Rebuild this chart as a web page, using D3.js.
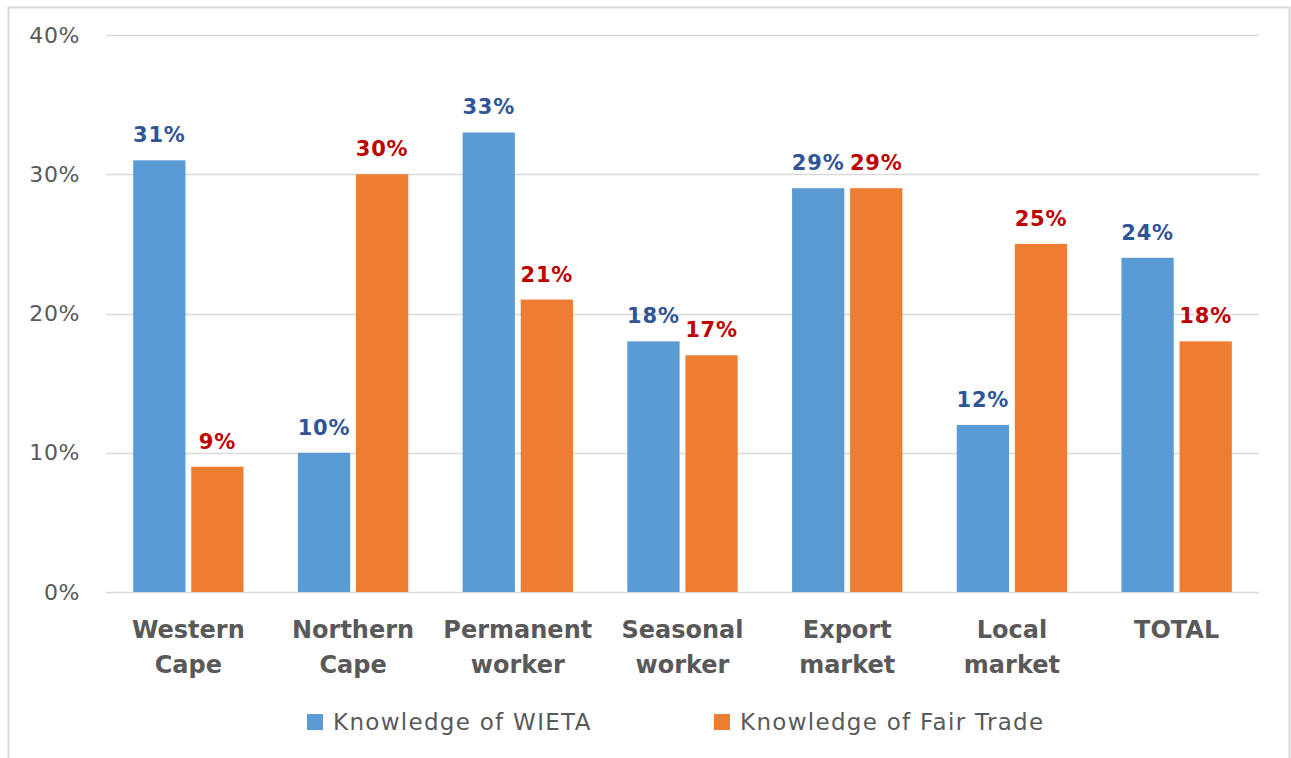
<!DOCTYPE html>
<html><head><meta charset="utf-8">
<script src="https://cdn.jsdelivr.net/npm/d3@7"></script>
<style>body{margin:0;background:#fff}svg{display:block}</style>
</head><body>
<svg id="c" width="1291" height="758"></svg>
<script>
const categories = [["Western","Cape"],["Northern","Cape"],["Permanent","worker"],["Seasonal","worker"],["Export","market"],["Local","market"],["TOTAL"]];
const wieta = [31, 10, 33, 18, 29, 12, 24];
const fairTrade = [9, 30, 21, 17, 29, 25, 18];
const seriesNames = ["Knowledge of WIETA", "Knowledge of Fair Trade"];
const yTicks = [0, 10, 20, 30, 40];

(function () {
const svg = d3.select("#c");
const font = "'DejaVu Sans', Verdana, sans-serif";
const W = 1291, H = 758;
const pLeft = 106, pRight = 1259, pTop = 35, pBottom = 592;

// border
svg.append("path").attr("d", `M8.5,${H} L8.5,7.5 L1289.5,7.5 L1289.5,${H}`)
  .attr("fill","none").attr("stroke","#d9d9d9").attr("stroke-width",2);

const idx = d3.range(categories.length);
const x = d3.scaleBand().domain(idx).range([pLeft, pRight]).paddingInner(0.33).paddingOuter(0.165);
const xs = d3.scaleBand().domain([0,1]).range([0, x.bandwidth()]).paddingInner(0.1);
const y = d3.scaleLinear().domain([0, 40]).range([pBottom, pTop]);

// gridlines
svg.append("g").selectAll("line").data(yTicks).join("line")
  .attr("x1", pLeft).attr("x2", pRight)
  .attr("y1", d => Math.round(y(d)) + 0.5).attr("y2", d => Math.round(y(d)) + 0.5)
  .attr("stroke", "#d9d9d9").attr("stroke-width", 1.3);

// y axis labels
const yAxis = d3.axisLeft(y).tickValues(yTicks).tickFormat(d => d + "%").tickSize(0).tickPadding(0);
const ya = svg.append("g").attr("transform", "translate(80,0)").call(yAxis);
ya.select(".domain").remove();
ya.selectAll("text").attr("font-family", font).attr("font-size", 22).attr("letter-spacing", 0.6).attr("fill", "#595959");

const colors = ["#5b9bd5", "#ed7d31"];
const labelColors = ["#2f5597", "#c00000"];
const series = [wieta, fairTrade];

series.forEach((vals, s) => {
  const g = svg.append("g");
  g.selectAll("rect").data(vals).join("rect")
    .attr("x", (d, i) => x(i) + xs(s))
    .attr("width", xs.bandwidth())
    .attr("y", d => y(d))
    .attr("height", d => y(0) - y(d))
    .attr("fill", colors[s]);
  g.selectAll("text").data(vals).join("text")
    .attr("x", (d, i) => x(i) + xs(s) + xs.bandwidth() / 2)
    .attr("y", d => y(d) - 18)
    .attr("text-anchor", "middle")
    .attr("font-family", font).attr("font-weight", "bold").attr("font-size", 21).attr("letter-spacing", 0.8)
    .attr("fill", labelColors[s])
    .text(d => d + "%");
});

// category labels
const xa = svg.append("g");
categories.forEach((lines, i) => {
  const t = xa.append("text")
    .attr("text-anchor", "middle")
    .attr("font-family", font).attr("font-weight", "bold").attr("font-size", 24)
    .attr("fill", "#595959");
  lines.forEach((ln, k) => {
    t.append("tspan").attr("x", x(i) + x.bandwidth() / 2).attr("y", 638 + k * 35).text(ln);
  });
});

// legend
const legX = [307, 714];
seriesNames.forEach((n, s) => {
  svg.append("rect").attr("x", legX[s]).attr("y", 714).attr("width", 16).attr("height", 16).attr("fill", colors[s]);
  svg.append("text").attr("x", legX[s] + 26).attr("y", 730)
    .attr("font-family", font).attr("font-size", 23).attr("letter-spacing", 1.3).attr("fill", "#595959").text(n);
});
})();
</script>
</body></html>
